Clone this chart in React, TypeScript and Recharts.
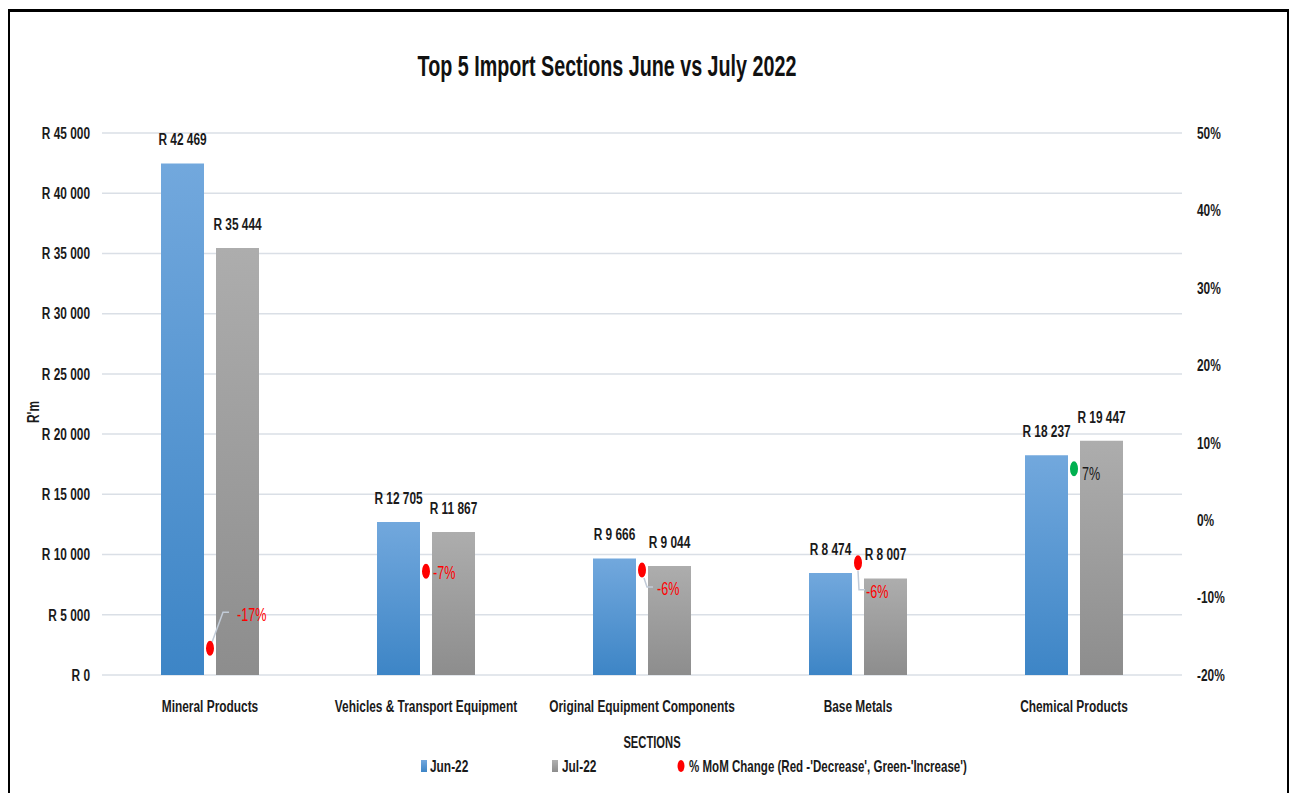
import React from "react";
import {
  Bar,
  CartesianGrid,
  ComposedChart,
  LabelList,
  Legend,
  Scatter,
  XAxis,
  YAxis,
} from "recharts";

// Top 5 import sections, R'm
const categories = [
  "Mineral Products",
  "Vehicles & Transport Equipment",
  "Original Equipment Components",
  "Base Metals",
  "Chemical Products",
];
const jun22 = [42469, 12705, 9666, 8474, 18237];
const jul22 = [35444, 11867, 9044, 8007, 19447];
// month-on-month change, %
const momChange = [-16.54, -6.6, -6.43, -5.51, 6.63];

const leftTicks = [0, 5000, 10000, 15000, 20000, 25000, 30000, 35000, 40000, 45000];
const rightTicks = [-20, -10, 0, 10, 20, 30, 40, 50];

const FONT = "'Liberation Sans', Arial, sans-serif";
const SX = 0.7; // source image is squashed horizontally, so text is drawn condensed
const INK = "#1a1a1a";
const GRID = "#dadfe6";

// the excel original had hand-dragged MoM labels; offsets are relative to the dot centre
const momLabelPlacement: Record<string, { dx: number; dy: number; leader?: number[][] }> = {
  "Mineral Products": { dx: 27, dy: -34, leader: [[2, -6], [13, -36], [19, -36]] },
  "Vehicles & Transport Equipment": { dx: 7, dy: 1 },
  "Original Equipment Components": { dx: 15, dy: 19, leader: [[2, 8], [5, 17], [11, 17]] },
  "Base Metals": { dx: 8, dy: 29, leader: [[0, 8], [1, 27], [7, 27]] },
  "Chemical Products": { dx: 8, dy: 5 },
};

const rows = categories.map((name, i) => ({
  name,
  jun: jun22[i],
  jul: jul22[i],
  mom: momChange[i],
}));

function rand(v: number): string {
  return "R " + String(v).replace(/\B(?=(\d{3})+(?!\d))/g, " ");
}

interface NarrowTextProps {
  x: number;
  y: number;
  anchor?: "start" | "middle" | "end";
  size?: number;
  weight?: number;
  fill?: string;
  rotate?: number;
  children: React.ReactNode;
}

function NarrowText({ x, y, anchor = "middle", size = 17, weight = 700, fill = INK, rotate = 0, children }: NarrowTextProps) {
  return (
    <text
      transform={`translate(${x} ${y}) rotate(${rotate}) scale(${SX} 1)`}
      textAnchor={anchor}
      dominantBaseline="central"
      fontFamily={FONT}
      fontSize={size}
      fontWeight={weight}
      fill={fill}
    >
      {children}
    </text>
  );
}

function CategoryTick(props: any) {
  const { x, y, payload } = props;
  return <NarrowText x={x} y={y}>{payload.value}</NarrowText>;
}

function LeftTick(props: any) {
  const { x, y, payload } = props;
  return <NarrowText x={x} y={y} anchor="end">{rand(payload.value)}</NarrowText>;
}

function RightTick(props: any) {
  const { x, y, payload } = props;
  return <NarrowText x={x} y={y} anchor="start">{`${payload.value}%`}</NarrowText>;
}

function BarValue(props: any) {
  const { x, y, width, value } = props;
  if (x == null || y == null) return null;
  return <NarrowText x={Number(x) + Number(width) / 2} y={Number(y) - 24}>{rand(Number(value))}</NarrowText>;
}

function MomDot(props: any) {
  const { cx, cy, payload } = props;
  if (cx == null || cy == null || !payload) return null;
  const v: number = payload.mom;
  const up = v >= 0;
  const place = momLabelPlacement[payload.name] ?? { dx: 8, dy: 0 };
  return (
    <g>
      {place.leader && (
        <polyline
          points={place.leader.map(([x, y]) => `${cx + x},${cy + y}`).join(" ")}
          fill="none"
          stroke="#c2cbd7"
          strokeWidth={1.5}
        />
      )}
      <ellipse cx={cx} cy={cy} rx={4} ry={7.5} fill={up ? "#00b050" : "#ff0000"} />
      <NarrowText x={cx + place.dx} y={cy + place.dy} anchor="start" size={18} weight={400} fill={up ? INK : "#ff0000"}>
        {`${Math.round(v)}%`}
      </NarrowText>
    </g>
  );
}

function LegendContent() {
  return (
    <svg width={1277} height={24} style={{ display: "block" }}>
      <defs>
        <linearGradient id="junKey" x1="0" y1="0" x2="0" y2="1">
          <stop offset="0%" stopColor="#72a8dd" />
          <stop offset="100%" stopColor="#3d85c6" />
        </linearGradient>
        <linearGradient id="julKey" x1="0" y1="0" x2="0" y2="1">
          <stop offset="0%" stopColor="#b0b0b0" />
          <stop offset="100%" stopColor="#8d8d8d" />
        </linearGradient>
      </defs>
      <rect x={411} y={6} width={6} height={12} fill="url(#junKey)" />
      <NarrowText x={420} y={12} anchor="start">Jun-22</NarrowText>
      <rect x={542} y={6} width={6} height={12} fill="url(#julKey)" />
      <NarrowText x={552} y={12} anchor="start">Jul-22</NarrowText>
      <ellipse cx={671} cy={12} rx={3.5} ry={6} fill="#ff0000" />
      <NarrowText x={679} y={12} anchor="start" size={16.5}>
        % MoM Change (Red -'Decrease', Green-'Increase')
      </NarrowText>
    </svg>
  );
}

export default function App() {
  return (
    <div
      style={{
        position: "fixed",
        left: 8,
        top: 9,
        boxSizing: "border-box",
        width: 1281,
        height: 784,
        borderTop: "3px solid #000",
        borderLeft: "2px solid #000",
        borderRight: "2px solid #000",
        background: "#fff",
        overflow: "hidden",
      }}
    >
      <style>{"html,body{overflow:hidden}"}</style>
      <div
        style={{
          position: "absolute",
          left: 0,
          top: 38,
          width: 1194,
          textAlign: "center",
          fontFamily: FONT,
          fontWeight: 700,
          fontSize: 29,
          lineHeight: "33px",
          color: "#111",
          transform: `scaleX(0.68)`,
          transformOrigin: "50% 50%",
          whiteSpace: "nowrap",
        }}
      >
        Top 5 Import Sections June vs July 2022
      </div>
      <ComposedChart
        width={1277}
        height={781}
        data={rows}
        margin={{ top: 121, right: 0, bottom: 38, left: 0 }}
        barSize={43}
        barGap={12}
        style={{ position: "absolute", left: 0, top: 0 }}
      >
        <defs>
          <linearGradient id="junFill" x1="0" y1="0" x2="0" y2="1">
            <stop offset="0%" stopColor="#72a8dd" />
            <stop offset="100%" stopColor="#3d85c6" />
          </linearGradient>
          <linearGradient id="julFill" x1="0" y1="0" x2="0" y2="1">
            <stop offset="0%" stopColor="#adadad" />
            <stop offset="100%" stopColor="#8d8d8d" />
          </linearGradient>
        </defs>
        <CartesianGrid yAxisId="left" vertical={false} stroke={GRID} strokeWidth={1.5} />
        <XAxis
          dataKey="name"
          height={80}
          axisLine={false}
          tickLine={false}
          tickSize={0}
          tickMargin={31}
          interval={0}
          tick={CategoryTick}
          label={{
            content: (p: any) => {
              const vb = p.viewBox ?? { x: 0, y: 0, width: 0, height: 0 };
              return (
                <NarrowText x={vb.x + vb.width / 2 + 10} y={vb.y + 67} size={16}>
                  SECTIONS
                </NarrowText>
              );
            },
          }}
        />
        <YAxis
          yAxisId="left"
          width={92}
          domain={[0, 45000]}
          ticks={leftTicks}
          axisLine={false}
          tickLine={false}
          tickSize={0}
          tickMargin={12}
          tick={LeftTick}
          label={{
            content: (p: any) => {
              const vb = p.viewBox ?? { x: 0, y: 0, height: 0 };
              return (
                <NarrowText x={vb.x + 23} y={vb.y + vb.height / 2 + 8} rotate={-90}>
                  R'm
                </NarrowText>
              );
            },
          }}
        />
        <YAxis
          yAxisId="right"
          orientation="right"
          width={105}
          domain={[-20, 50]}
          ticks={rightTicks}
          axisLine={false}
          tickLine={false}
          tickSize={0}
          tickMargin={15}
          tick={RightTick}
        />
        <Bar yAxisId="left" dataKey="jun" name="Jun-22" fill="url(#junFill)" isAnimationActive={false}>
          <LabelList dataKey="jun" content={BarValue} />
        </Bar>
        <Bar yAxisId="left" dataKey="jul" name="Jul-22" fill="url(#julFill)" isAnimationActive={false}>
          <LabelList dataKey="jul" content={BarValue} />
        </Bar>
        <Scatter
          yAxisId="right"
          dataKey="mom"
          name="% MoM Change"
          shape={MomDot}
          isAnimationActive={false}
        />
        <Legend
          layout="horizontal"
          verticalAlign="middle"
          align="center"
          wrapperStyle={{ left: 0, top: 742, width: 1277 }}
          content={LegendContent}
        />
      </ComposedChart>
    </div>
  );
}
